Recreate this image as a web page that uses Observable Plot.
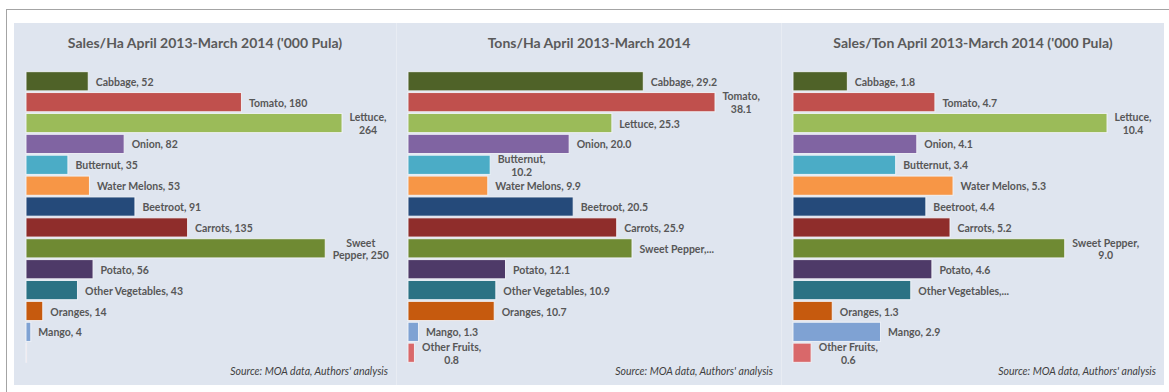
<!DOCTYPE html>
<html>
<head>
<meta charset="utf-8">
<script src="https://cdn.jsdelivr.net/npm/d3@7"></script>
<script src="https://cdn.jsdelivr.net/npm/@observablehq/plot@0.6"></script>
<style>
  html, body { margin: 0; padding: 0; background: #ffffff; }
  body { width: 1169px; height: 392px; position: relative; overflow: hidden; font-family: Lato, "Open Sans", sans-serif; }
  #frame { position: absolute; left: 6px; top: 9px; width: 1200px; height: 400px; border-top: 1.5px solid #a4a4a4; border-left: 1.5px solid #a4a4a4; }
  #strip { position: absolute; left: 14px; top: 23px; width: 1150px; height: 362px; background: #e8ecf3; }
  .panel { position: absolute; top: 23px; height: 362px; background: #dfe5ef; }
  .title { position: absolute; left: 0; right: 0; top: 11px; text-align: center; font-size: 14px; color: #5a5a5a; font-weight: bold; white-space: nowrap; }
  .source { position: absolute; right: 8px; top: 342px; font-size: 10.5px; font-style: italic; color: #3f3f3f; white-space: nowrap; }
  .panel svg { position: absolute; left: 0; top: 37px; overflow: visible; max-width: none !important; }
</style>
</head>
<body>
<div id="frame"></div>
<div id="strip"></div>
<div id="root"></div>
<script>
const categories = ["Cabbage","Tomato","Lettuce","Onion","Butternut","Water Melons","Beetroot","Carrots","Sweet Pepper","Potato","Other Vegetables","Oranges","Mango","Other Fruits"];
const barColors = ["#4f6228","#c0504d","#9bbb59","#8064a2","#4bacc6","#f79646","#254a7a","#8f2d2b","#6f8a33","#4e3a68","#2b7284","#c65a0e","#7fa2d3","#d9686a"];

const salesPerHa  = [52, 180, 264, 82, 35, 53, 91, 135, 250, 56, 43, 14, 4, 0.5];
const tonsPerHa   = [29.2, 38.1, 25.3, 20.0, 10.2, 9.9, 20.5, 25.9, 27.8, 12.1, 10.9, 10.7, 1.3, 0.8];
const salesPerTon = [1.8, 4.7, 10.4, 4.1, 3.4, 5.3, 4.4, 5.2, 9.0, 4.6, 3.9, 1.3, 2.9, 0.6];

const labelsSalesHa  = ["Cabbage, 52","Tomato, 180","Lettuce,\n264","Onion, 82","Butternut, 35","Water Melons, 53","Beetroot, 91","Carrots, 135","Sweet\nPepper, 250","Potato, 56","Other Vegetables, 43","Oranges, 14","Mango, 4",""];
const labelsTonsHa   = ["Cabbage, 29.2","Tomato,\n38.1","Lettuce, 25.3","Onion, 20.0","Butternut,\n10.2","Water Melons, 9.9","Beetroot, 20.5","Carrots, 25.9","Sweet Pepper,...","Potato, 12.1","Other Vegetables, 10.9","Oranges, 10.7","Mango, 1.3","Other Fruits,\n0.8"];
const labelsSalesTon = ["Cabbage, 1.8","Tomato, 4.7","Lettuce,\n10.4","Onion, 4.1","Butternut, 3.4","Water Melons, 5.3","Beetroot, 4.4","Carrots, 5.2","Sweet Pepper,\n9.0","Potato, 4.6","Other Vegetables,...","Oranges, 1.3","Mango, 2.9","Other Fruits,\n0.6"];

const titles = ["Sales/Ha April 2013-March 2014 ('000 Pula)", "Tons/Ha April 2013-March 2014", "Sales/Ton April 2013-March 2014 ('000 Pula)"];
const sourceText = "Source: MOA data, Authors' analysis";

const panels = [
  {left: 14,  width: 382, ml: 12, mr: 54, values: salesPerHa,  labels: labelsSalesHa},
  {left: 397, width: 384, ml: 11, mr: 66, values: tonsPerHa,   labels: labelsTonsHa},
  {left: 782, width: 382, ml: 11, mr: 57, values: salesPerTon, labels: labelsSalesTon}
];

const labelFont = "bold 10.5px Lato";
const ctx = document.createElement("canvas").getContext("2d");
ctx.font = labelFont;
const textWidth = s => d3.max(s.split("\n"), l => ctx.measureText(l).width);

const root = document.getElementById("root");
panels.forEach((p, i) => {
  const rows = categories.map((c, j) => ({category: c, value: p.values[j], color: barColors[j], label: p.labels[j]}));
  const single = rows.filter(d => d.label && !d.label.includes("\n"));
  const wrapped = rows.filter(d => d.label && d.label.includes("\n"));
  const textStyle = {fill: "#575757", fontWeight: "bold", fontSize: 10.5, lineHeight: 1.2};
  const chart = Plot.plot({
    width: p.width,
    height: 304,
    marginTop: 10,
    marginBottom: 0,
    marginLeft: p.ml,
    marginRight: p.mr,
    x: {domain: [0, d3.max(p.values)], axis: null},
    y: {domain: categories, axis: null, padding: 0.08, round: false},
    color: {type: "identity"},
    style: {background: "transparent", fontFamily: "Lato, sans-serif", overflow: "visible"},
    marks: [
      Plot.barX(rows, {x: "value", y: "category", fill: "color", stroke: "#f3f5f9", strokeWidth: 1, strokeOpacity: 0.9}),
      Plot.text(single, {x: "value", y: "category", text: "label", textAnchor: "start", dx: 7, ...textStyle}),
      ...wrapped.map(d => Plot.text([d], {x: "value", y: "category", text: "label", textAnchor: "middle", lineAnchor: "middle", dx: 7 + textWidth(d.label) / 2, ...textStyle}))
    ]
  });
  const div = document.createElement("div");
  div.className = "panel";
  div.style.left = p.left + "px";
  div.style.width = p.width + "px";
  const t = document.createElement("div");
  t.className = "title";
  t.textContent = titles[i];
  const s = document.createElement("div");
  s.className = "source";
  s.textContent = sourceText;
  div.appendChild(t);
  div.appendChild(chart);
  div.appendChild(s);
  root.appendChild(div);
});
</script>
</body>
</html>
